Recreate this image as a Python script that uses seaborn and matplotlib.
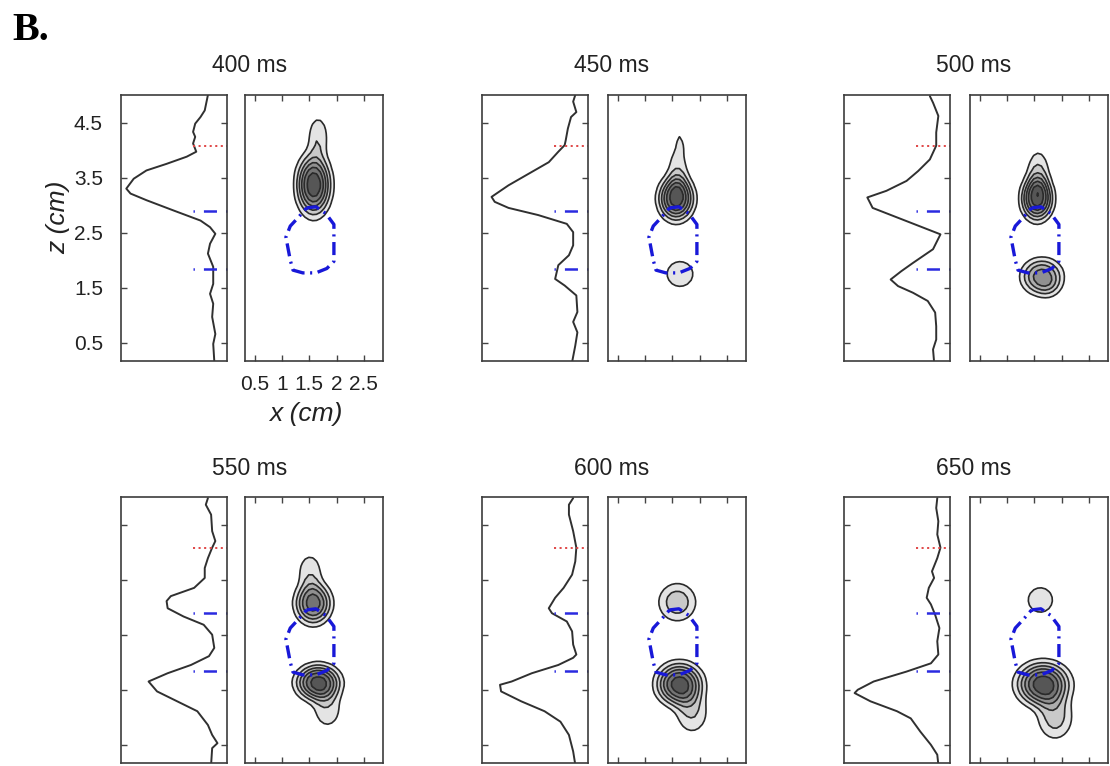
import numpy as np
import matplotlib
matplotlib.use("Agg")
import matplotlib.pyplot as plt
import seaborn as sns
from matplotlib import font_manager

# ---- data -------------------------------------------------------------
panel_titles = ["400 ms", "450 ms", "500 ms", "550 ms", "600 ms", "650 ms"]

# depth profiles: z (cm) and value as fraction of the profile box width
prof_400_z = [5.0, 4.72, 4.6, 4.48, 4.33, 4.24, 4.12, 3.97, 3.88, 3.75, 3.63, 3.48, 3.3, 3.21,
              3.09, 2.9, 2.72, 2.6, 2.48, 2.3, 2.12, 1.88, 1.57, 1.39, 1.21, 0.97, 0.66, 0.48, 0.17]
prof_400_v = [0.82, 0.79, 0.75, 0.70, 0.68, 0.70, 0.68, 0.71, 0.62, 0.43, 0.24, 0.12, 0.05, 0.09,
              0.24, 0.50, 0.75, 0.84, 0.89, 0.84, 0.82, 0.87, 0.87, 0.84, 0.87, 0.86, 0.89, 0.87, 0.88]

prof_450_z = [5.0, 4.88, 4.69, 4.6, 4.39, 4.18, 4.09, 3.97, 3.78, 3.57, 3.36, 3.15, 3.06, 2.95,
              2.82, 2.66, 2.51, 2.27, 2.09, 1.91, 1.66, 1.54, 1.36, 1.06, 0.88, 0.69, 0.45, 0.15]
prof_450_v = [0.88, 0.86, 0.89, 0.84, 0.81, 0.79, 0.78, 0.72, 0.63, 0.44, 0.25, 0.09, 0.12, 0.25,
              0.53, 0.80, 0.86, 0.86, 0.82, 0.72, 0.69, 0.78, 0.89, 0.90, 0.86, 0.90, 0.88, 0.85]

prof_500_z = [4.98, 4.86, 4.62, 4.32, 4.08, 3.83, 3.62, 3.44, 3.26, 3.14, 2.95, 2.71, 2.47, 2.2,
              1.95, 1.80, 1.65, 1.53, 1.41, 1.26, 1.05, 0.80, 0.56, 0.38, 0.15]
prof_500_v = [0.81, 0.84, 0.89, 0.87, 0.87, 0.81, 0.70, 0.59, 0.40, 0.22, 0.27, 0.59, 0.91, 0.84,
              0.65, 0.54, 0.44, 0.51, 0.65, 0.79, 0.86, 0.87, 0.87, 0.84, 0.85]

prof_550_z = [4.98, 4.86, 4.68, 4.38, 4.2, 4.08, 3.89, 3.71, 3.53, 3.35, 3.2, 3.11, 2.98, 2.83,
              2.68, 2.5, 2.26, 2.11, 1.95, 1.80, 1.65, 1.47, 1.29, 1.11, 0.86, 0.68, 0.53, 0.44, 0.14]
prof_550_v = [0.82, 0.80, 0.85, 0.86, 0.89, 0.86, 0.82, 0.79, 0.79, 0.69, 0.47, 0.43, 0.44, 0.59,
              0.78, 0.86, 0.88, 0.83, 0.66, 0.44, 0.26, 0.34, 0.53, 0.72, 0.82, 0.86, 0.91, 0.86, 0.85]

prof_600_z = [4.98, 4.86, 4.68, 4.38, 4.08, 3.83, 3.59, 3.35, 3.17, 2.98, 2.89, 2.74, 2.56, 2.32,
              2.14, 2.08, 1.95, 1.80, 1.65, 1.59, 1.47, 1.29, 1.11, 0.92, 0.68, 0.38, 0.14]
prof_600_v = [0.86, 0.82, 0.82, 0.86, 0.89, 0.88, 0.85, 0.77, 0.69, 0.63, 0.66, 0.80, 0.85, 0.86,
              0.89, 0.86, 0.72, 0.47, 0.28, 0.17, 0.18, 0.37, 0.59, 0.74, 0.82, 0.86, 0.88]

prof_650_z = [4.98, 4.8, 4.56, 4.32, 4.08, 3.89, 3.65, 3.53, 3.35, 3.17, 3.05, 2.86, 2.62, 2.38,
              2.14, 1.98, 1.83, 1.65, 1.5, 1.44, 1.29, 1.11, 0.98, 0.74, 0.50, 0.32, 0.14]
prof_650_v = [0.88, 0.87, 0.89, 0.88, 0.91, 0.88, 0.83, 0.85, 0.80, 0.78, 0.82, 0.86, 0.90, 0.88,
              0.89, 0.82, 0.59, 0.28, 0.13, 0.10, 0.25, 0.50, 0.63, 0.72, 0.82, 0.88, 0.89]

profile_z = [prof_400_z, prof_450_z, prof_500_z, prof_550_z, prof_600_z, prof_650_z]
profile_v = [prof_400_v, prof_450_v, prof_500_v, prof_550_v, prof_600_v, prof_650_v]

# reference depths marked on the profiles
red_depth = 4.08
blue_depths = [2.89, 1.84]

# outline of the region drawn in blue on the x-z maps
region_x = [1.45, 1.62, 1.80, 1.95, 1.95, 1.82, 1.62, 1.38, 1.20, 1.15, 1.07, 1.15, 1.30, 1.45]
region_z = [2.95, 2.97, 2.85, 2.65, 1.98, 1.85, 1.77, 1.77, 1.82, 2.00, 2.42, 2.62, 2.78, 2.95]

# activity blobs on the x-z maps: (x centre, z centre, sx, sz, peak)
blobs_400 = [(1.58, 3.37, 0.216, 0.38, 6.8), (1.66, 4.25, 0.14, 0.28, 1.8)]
blobs_450 = [(1.57, 3.12, 0.224, 0.277, 6.5), (1.60, 3.65, 0.14, 0.35, 1.6),
             (1.64, 4.10, 0.05, 0.15, 1.2), (1.64, 1.75, 0.23, 0.22, 1.7)]
blobs_500 = [(1.55, 3.12, 0.20, 0.275, 6.5), (1.57, 3.60, 0.15, 0.30, 2.0),
             (1.64, 1.70, 0.262, 0.23, 4.6), (1.78, 1.50, 0.15, 0.15, 0.6)]
blobs_550 = [(1.57, 3.07, 0.23, 0.262, 5.6), (1.51, 3.65, 0.17, 0.25, 1.7),
             (1.66, 1.63, 0.28, 0.225, 6.5), (1.83, 1.15, 0.20, 0.27, 1.7)]
blobs_600 = [(1.59, 3.09, 0.26, 0.26, 2.6), (1.63, 1.60, 0.29, 0.265, 6.6),
             (1.86, 1.08, 0.22, 0.28, 2.0)]
blobs_650 = [(1.61, 3.13, 0.20, 0.20, 1.9), (1.66, 1.60, 0.33, 0.275, 6.7),
             (1.88, 1.00, 0.24, 0.30, 2.4)]
panel_blobs = [blobs_400, blobs_450, blobs_500, blobs_550, blobs_600, blobs_650]
BLOB_EXP = 2.5  # flat-topped bumps, so contour lines come out evenly spaced

contour_levels = [1, 2, 3, 4, 5, 6, 7]
band_greys = ["#e4e4e4", "#c9c9c9", "#adadad", "#909090", "#747474", "#565656", "#404040"]

z_ticks = [0.5, 1.5, 2.5, 3.5, 4.5]
x_ticks = [0.5, 1.0, 1.5, 2.0, 2.5]
x_tick_labels = ["0.5", "1", "1.5", "2", "2.5"]

# ---- styling --------------------------------------------------------------
sns.set_style("white")
plt.rcParams["lines.scale_dashes"] = False
plt.rcParams["font.family"] = ["Liberation Sans", "DejaVu Sans"]
available = {f.name for f in font_manager.fontManager.ttflist}
tick_font = "Liberation Sans Narrow" if "Liberation Sans Narrow" in available else "Liberation Sans"

FW, FH = 1110, 766
fig = plt.figure(figsize=(FW / 100, FH / 100), dpi=100)


def add_ax(x0, y0, w, h):
    return fig.add_axes([x0 / FW, 1 - (y0 + h) / FH, w / FW, h / FH])


def style_box(ax):
    for sp in ax.spines.values():
        sp.set_color("#3c3c3c")
        sp.set_linewidth(1.2)
        sp.set_visible(True)


prof_left = [121, 482, 844]
cont_left = [245, 608, 970]
row_top = [95, 497]
title_y = [66, 468]
PW, CW, H = 106, 138, 266
ZLIM = (0.17, 5.0)
XLIM = (0.32, 2.85)

grid_x = np.arange(0.30, 2.90, 0.07)
grid_z = np.arange(0.10, 5.10, 0.07)
GX, GZ = np.meshgrid(grid_x, grid_z)

for i in range(6):
    r, c = divmod(i, 3)
    y0 = row_top[r]

    # ---- depth profile ----
    ax = add_ax(prof_left[c], y0, PW, H)
    style_box(ax)
    sns.lineplot(x=profile_v[i], y=profile_z[i], sort=False, estimator=None,
                 color="#303030", linewidth=1.4, ax=ax)
    ax.plot([0.68, 1.0], [red_depth, red_depth], color="#e04848", lw=1.4,
            dashes=(1.5, 2.5), clip_on=False)
    for d in blue_depths:
        ax.plot([0.68, 1.0], [d, d], color="#2a2ae0", lw=1.8,
                dashes=(1.0, 6.5, 9.4, 6.5), clip_on=False)
    ax.set_xlim(0, 1)
    ax.set_ylim(*ZLIM)
    ax.set_xticks([])
    ax.set_yticks(z_ticks)
    ax.tick_params(axis="y", direction="in", length=4, width=1, color="#444444",
                   left=True, right=True, labelleft=(i == 0), labelsize=15, pad=13)
    ax.set_xlabel("")
    if i == 0:
        for lab in ax.get_yticklabels():
            lab.set_family(tick_font)
            lab.set_color("#222222")
        ax.set_ylabel("z (cm)", fontsize=19, style="italic", color="#222222")
        ax.yaxis.set_label_coords(-0.48, 0.541)
    else:
        ax.set_ylabel("")

    # ---- x-z map ----
    ax2 = add_ax(cont_left[c], y0, CW, H)
    style_box(ax2)
    field = np.zeros_like(GX)
    for cx, cz, sx, sz, amp in panel_blobs[i]:
        rr = np.sqrt(((GX - cx) / sx) ** 2 + ((GZ - cz) / sz) ** 2)
        field += amp * np.exp(-0.5 * rr ** BLOB_EXP)
    ax2.contourf(GX, GZ, field, levels=contour_levels + [1e6], colors=band_greys)
    ax2.contour(GX, GZ, field, levels=contour_levels, colors="#2a2a2a", linewidths=1.2)
    ax2.plot(region_x, region_z, color="#1818d8", lw=2.4, dashes=(9.4, 4.0, 1.5, 4.0))
    ax2.set_xlim(*XLIM)
    ax2.set_ylim(*ZLIM)
    ax2.set_yticks([])
    ax2.set_xticks(x_ticks)
    ax2.set_xticklabels(x_tick_labels)
    ax2.tick_params(axis="x", direction="in", length=4, width=1, color="#444444",
                    top=True, bottom=True, labelbottom=(i == 0), labelsize=15, pad=10)
    if i == 0:
        for lab in ax2.get_xticklabels():
            lab.set_family(tick_font)
            lab.set_color("#222222")
        ax2.set_xlabel("x (cm)", fontsize=19, style="italic", color="#222222")
        ax2.xaxis.set_label_coords(0.44, -0.155)

    # ---- panel title ----
    cx_title = (prof_left[c] + cont_left[c] + CW) / 2 - 2
    fig.text(cx_title / FW, 1 - title_y[r] / FH, panel_titles[i], ha="center", va="center",
             fontsize=16.5, color="#222222")

fig.text(12 / FW, 1 - 40 / FH, "B.", family=["Liberation Serif", "DejaVu Serif"],
         weight="bold", fontsize=29, ha="left", va="baseline", color="black")

fig.savefig("out.png", dpi=100)
